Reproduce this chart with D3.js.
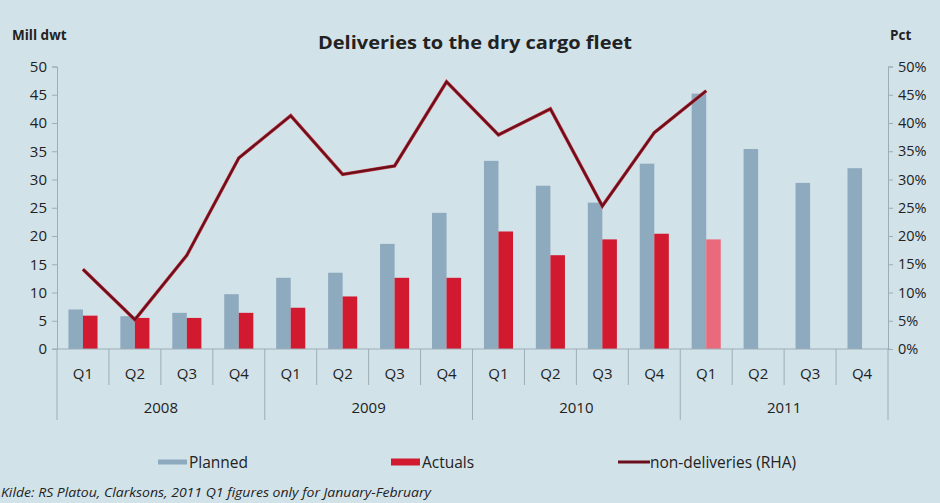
<!DOCTYPE html>
<html>
<head>
<meta charset="utf-8">
<script src="https://cdn.jsdelivr.net/npm/d3@7"></script>
<style>
  html, body { margin: 0; padding: 0; background: #d2e2e9; }
  svg { display: block; }
  text { font-family: "Open Sans", "Noto Sans", sans-serif; fill: #222; }
</style>
</head>
<body>
<svg id="chart" width="940" height="503"></svg>
<script>
// Quarterly deliveries to the dry cargo fleet, 2008–2011
const years = ["2008", "2009", "2010", "2011"];
const quarters = ["Q1", "Q2", "Q3", "Q4"];
const categories = years.flatMap(y => quarters.map(q => y + " " + q));

// Million dwt
const planned = [7.0, 5.8, 6.4, 9.7, 12.6, 13.5, 18.6, 24.1,
                 33.3, 28.9, 25.9, 32.8, 45.2, 35.4, 29.4, 32.0];
const actuals = [5.9, 5.5, 5.5, 6.4, 7.3, 9.3, 12.6, 12.6,
                 20.8, 16.6, 19.4, 20.4, 19.4];
// Share not delivered, percent (right-hand axis)
const nonDeliveries = [14.1, 5.2, 16.6, 33.8, 41.3, 30.9, 32.4, 47.3,
                       37.9, 42.5, 25.3, 38.3, 45.7];

const leftTicks = [0, 5, 10, 15, 20, 25, 30, 35, 40, 45, 50];
const rightTicks = [0, 5, 10, 15, 20, 25, 30, 35, 40, 45, 50];

const svg = d3.select("#chart");
const plot = { left: 57, right: 888, top: 66.5, bottom: 349 };

const x = d3.scaleBand().domain(categories).range([plot.left, plot.right]).padding(0);
const yL = d3.scaleLinear().domain([0, 50]).range([plot.bottom, plot.top]);
const yR = d3.scaleLinear().domain([0, 50]).range([plot.bottom, plot.top]);

const axisColor = "#9eadb7";
const barW = x.bandwidth() * 0.28;

// Left axis
const gL = svg.append("g").attr("transform", `translate(${plot.left},0)`)
  .call(d3.axisLeft(yL).tickValues(leftTicks).tickSize(5).tickPadding(5).tickFormat(d3.format("d")));
gL.select(".domain").attr("stroke", axisColor);
gL.selectAll(".tick line").attr("stroke", axisColor);
gL.selectAll(".tick text").style("font-size", "15px").attr("fill", "#222").style("font-family", "'Open Sans', sans-serif");

// Right axis
const gR = svg.append("g").attr("transform", `translate(${plot.right},0)`)
  .call(d3.axisRight(yR).tickValues(rightTicks).tickSize(5).tickPadding(5).tickFormat(d => d + "%"));
gR.select(".domain").attr("stroke", axisColor);
gR.selectAll(".tick line").attr("stroke", axisColor);
gR.selectAll(".tick text").style("font-size", "14.5px").attr("fill", "#222").style("font-family", "'Open Sans', sans-serif");

// Bars
svg.append("g").selectAll("rect").data(planned).join("rect")
  .attr("x", (d, i) => x(categories[i]) + x.bandwidth() / 2 - barW)
  .attr("y", d => yL(d))
  .attr("width", barW)
  .attr("height", d => yL(0) - yL(d))
  .attr("fill", "#8eaabe");

svg.append("g").selectAll("rect").data(actuals).join("rect")
  .attr("x", (d, i) => x(categories[i]) + x.bandwidth() / 2)
  .attr("y", d => yL(d))
  .attr("width", barW)
  .attr("height", d => yL(0) - yL(d))
  .attr("fill", (d, i) => i === 12 ? "#ea6a7b" : "#d11a30");

// Category axis: baseline, quarter and year dividers
const xg = svg.append("g");
xg.append("line").attr("x1", plot.left - 5).attr("x2", plot.right + 2)
  .attr("y1", plot.bottom).attr("y2", plot.bottom).attr("stroke", axisColor);
categories.forEach((c, i) => {
  const xe = x(c);
  const isYear = i % 4 === 0;
  xg.append("line").attr("x1", xe).attr("x2", xe)
    .attr("y1", plot.bottom).attr("y2", isYear ? 420 : 385)
    .attr("stroke", axisColor);
});
xg.append("line").attr("x1", plot.right).attr("x2", plot.right)
  .attr("y1", plot.bottom).attr("y2", 420).attr("stroke", axisColor);

xg.selectAll("text.q").data(categories).join("text").attr("class", "q")
  .attr("x", d => x(d) + x.bandwidth() / 2)
  .attr("y", 379)
  .attr("text-anchor", "middle")
  .style("font-size", "15px")
  .text(d => d.split(" ")[1]);

xg.selectAll("text.yr").data(years).join("text").attr("class", "yr")
  .attr("x", (d, i) => (x(d + " Q1") + x(d + " Q4") + x.bandwidth()) / 2)
  .attr("y", 413)
  .attr("text-anchor", "middle")
  .style("font-size", "15px")
  .text(d => d);

// Non-delivery line
const line = d3.line()
  .x((d, i) => x(categories[i]) + x.bandwidth() / 2)
  .y(d => yR(d));
svg.append("path").datum(nonDeliveries)
  .attr("d", line)
  .attr("fill", "none")
  .attr("stroke", "#c4343f")
  .attr("stroke-width", 3.4)
  .attr("stroke-linejoin", "miter");
svg.append("path").datum(nonDeliveries)
  .attr("d", line)
  .attr("fill", "none")
  .attr("stroke", "#6a0f1c")
  .attr("stroke-width", 2.2)
  .attr("stroke-linejoin", "miter");

// Titles
svg.append("text").attr("x", 475).attr("y", 49).attr("text-anchor", "middle")
  .style("font-size", "18px").style("font-weight", "bold")
  .attr("textLength", 314).attr("lengthAdjust", "spacingAndGlyphs")
  .text("Deliveries to the dry cargo fleet");
svg.append("text").attr("x", 12).attr("y", 40)
  .style("font-size", "13.5px").style("font-weight", "bold").text("Mill dwt");
svg.append("text").attr("x", 890).attr("y", 40)
  .style("font-size", "13.5px").style("font-weight", "bold").text("Pct");

// Legend
const legend = svg.append("g");
const legendItems = [
  { label: "Planned", x: 158, type: "rect", color: "#8eaabe", h: 5 },
  { label: "Actuals", x: 391, type: "rect", color: "#d11a30", h: 7 },
  { label: "non-deliveries (RHA)", x: 618, type: "line", color: "#6a0f1c" }
];
legendItems.forEach(it => {
  if (it.type === "rect") {
    legend.append("rect").attr("x", it.x).attr("y", 462 - it.h / 2).attr("width", 29).attr("height", it.h).attr("fill", it.color);
  } else {
    legend.append("line").attr("x1", it.x).attr("x2", it.x + 32).attr("y1", 462).attr("y2", 462)
      .attr("stroke", it.color).attr("stroke-width", 3);
  }
  legend.append("text").attr("x", it.x + (it.type === "line" ? 32 : 31)).attr("y", 467.5)
    .style("font-size", "15.5px").text(it.label);
});

// Source note
svg.append("text").attr("x", 1).attr("y", 497)
  .style("font-size", "12px").style("font-style", "italic")
  .attr("textLength", 430).attr("lengthAdjust", "spacingAndGlyphs")
  .text("Kilde: RS Platou, Clarksons, 2011 Q1 figures only for January-February");
</script>
</body>
</html>
